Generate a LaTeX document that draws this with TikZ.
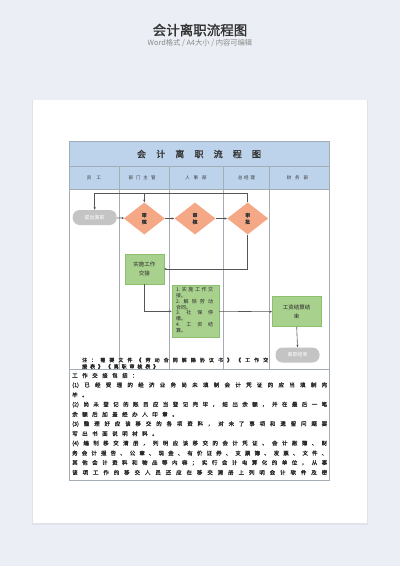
\documentclass[tikz,border=0pt]{standalone}
\usepackage{fontspec}
\setmainfont{Noto Sans CJK SC}
\newfontfamily\cjkb[FakeBold=1.5]{Noto Sans CJK SC}
\usetikzlibrary{arrows.meta,shapes.geometric}
\definecolor{bgc}{HTML}{EBEEF4}
\definecolor{shc}{HTML}{E0E3EA}
\definecolor{hdr}{HTML}{BDD3EB}
\definecolor{tline}{HTML}{A4ACB6}
\definecolor{grayterm}{HTML}{C4C4C4}
\definecolor{dia}{HTML}{F5A886}
\definecolor{grn}{HTML}{A9D18E}
\definecolor{grnline}{HTML}{8CBF6E}
\definecolor{arrc}{HTML}{555555}
\definecolor{titc}{HTML}{333333}
\definecolor{subc}{HTML}{8A8A8A}
\definecolor{txc}{HTML}{2A2A2A}
\makeatletter
\def\sp@aux#1{#1\futurelet\sp@next\sp@chk}
\def\sp@chk{\ifx\sp@next\relax\expandafter\@gobble\else\hfil\expandafter\sp@aux\fi}
\newcommand\spreadtext[2]{\hbox to #1{\sp@aux#2\relax}}
\makeatother
\tikzset{
  term/.style={rounded corners=7pt, fill=grayterm, minimum width=44pt, minimum height=15pt, inner sep=0pt, text=white, font=\fontsize{5}{6}\selectfont},
  decide/.style={diamond, fill=dia, minimum width=41pt, minimum height=32pt, inner sep=0pt, align=center, text=titc, font=\cjkb\fontsize{5}{6.5}\selectfont},
  gbox/.style={rectangle, fill=grn, draw=grnline, line width=0.5pt, inner sep=0pt, align=center, text=txc, font=\fontsize{5.5}{9}\selectfont},
  arr/.style={draw=arrc, line width=0.6pt, -{Stealth[length=2.6pt,width=2.2pt]}},
  lanelab/.style={font=\fontsize{4.5}{5}\selectfont, text=titc, inner sep=0pt},
  bodytxt/.style={anchor=west, inner sep=0pt, font=\cjkb\fontsize{5.5}{6}\selectfont, text=txc},
  tl/.style={draw=tline, line width=0.6pt}
}
\begin{document}
\begin{tikzpicture}[x=1pt,y=-1pt]
\useasboundingbox (0,0) rectangle (400,566);
\fill[bgc] (0,0) rectangle (400,566);
\fill[shc] (31.7,100) rectangle (367.7,525);
\fill[white] (32.7,100) rectangle (366.7,523.3);
% page heading
\node[font=\cjkb\fontsize{13.5}{14}\selectfont, text=titc] (ttl) at (200,30) {会计离职流程图};
\node[font=\fontsize{7.3}{8}\selectfont, text=subc] (sub) at (200,43) {Word格式 / A4大小 / 内容可编辑};
% table
\fill[hdr] (69.3,141) rectangle (329,189.5);
\draw[tl] (69.3,141) rectangle (329,480.7);
\draw[tl] (69.3,166.5) -- (329,166.5);
\draw[tl] (69.3,189.5) -- (329,189.5);
\draw[tl] (69.3,369.7) -- (329,369.7);
\foreach \x in {119.3,169.3,223.3,269.3}{\draw[tl] (\x,166.5) -- (\x,369.7);}
\node[inner sep=0pt, font=\cjkb\fontsize{9}{10}\selectfont, text=titc] (maintitle) at (199,154) {\spreadtext{124pt}{会计离职流程图}};
\node[lanelab] (l1) at (94,178) {\spreadtext{14.5pt}{员工}};
\node[lanelab] (l2) at (142,178) {\spreadtext{27pt}{部门主管}};
\node[lanelab] (l3) at (196,178) {\spreadtext{21.5pt}{人事部}};
\node[lanelab] (l4) at (246.5,178) {\spreadtext{17pt}{总经理}};
\node[lanelab] (l5) at (297.5,178) {\spreadtext{21.5pt}{财务部}};
% flow nodes
\node[term] (start) at (94.7,217.5) {提出离职};
\node[decide] (d1) at (144.3,218.5) {审\\核};
\node[decide] (d2) at (195,218.5) {审\\核};
\node[decide] (d3) at (247.7,218.5) {审\\批};
\node[gbox, minimum width=39pt, minimum height=30pt] (act1) at (144.3,269) {实施工作\\交接};
\node[gbox, minimum width=47pt, minimum height=52.7pt] (act2) at (195.5,311.3) {};
\node[anchor=north west, inner sep=0pt, align=left, text=txc, font=\fontsize{5}{5.75}\selectfont] (act2t) at (176,287.3) {\spreadtext{37pt}{{1.}实施工作交}\\接。\\\spreadtext{37pt}{{2.}解除劳动}\\合同。\\\spreadtext{37pt}{{3.}社保停}\\缴。\\\spreadtext{37pt}{{4.}工资结}\\算。};
\node[gbox, minimum width=48.7pt, minimum height=30pt] (fin) at (296.7,311.7) {工资结算结\\束};
\node[term] (end) at (297.5,355) {离职结束};
% connectors
\coordinate (topL) at (94.7,193.3);
\draw[arr] (start) -- (d1);
\draw[arr] (d1) -- (d2);
\draw[arr] (d2) -- (d3);
\draw[arr] (d3.north) |- (topL) -- (start.north);
\draw[arr] (d1.north |- topL) -- (d1.north);
\draw[arr] (d3.south) |- (act1.east);
\draw[arr] (act1.south) |- (act2.west);
\draw[arr] (act2.east) -- (fin.west);
\draw[arr] (fin.south) -- (end.north);
% note
\node[bodytxt, font=\cjkb\fontsize{5}{6}\selectfont] (n1) at (82,360) {\spreadtext{186pt}{注：需要文件《劳动合同解除协议书》《工作交}};
\node[bodytxt, font=\cjkb\fontsize{5}{6}\selectfont] (n2) at (82,366.5) {\spreadtext{76pt}{接表》《离职审核表》}};
% body text
\node[bodytxt] (b0) at (72,375.5) {\spreadtext{65.5pt}{工作交接包括：}};
\node[bodytxt] (b1) at (72,385.2) {\spreadtext{255pt}{{(1)}已经受理的经济业务尚未填制会计凭证的应当填制完}};
\node[bodytxt] (b2) at (72,394.9) {\spreadtext{15.5pt}{毕。}};
\node[bodytxt] (b3) at (72,404.6) {\spreadtext{255pt}{{(2)}尚未登记的账目应当登记完毕，结出余额，并在最后一笔}};
\node[bodytxt] (b4) at (72,414.3) {\spreadtext{105.5pt}{余额后加盖经办人印章。}};
\node[bodytxt] (b5) at (72,424) {\spreadtext{255pt}{{(3)}整理好应该移交的各项资料，对未了事项和遗留问题要}};
\node[bodytxt] (b6) at (72,433.7) {\spreadtext{85.5pt}{写出书面说明材料。}};
\node[bodytxt] (b7) at (72,443.4) {\spreadtext{255pt}{{(4)}编制移交清册，列明应该移交的会计凭证、会计账簿、财}};
\node[bodytxt] (b8) at (72,453.1) {\spreadtext{255pt}{务会计报告、公章、现金、有价证券、支票簿、发票、文件、}};
\node[bodytxt] (b9) at (72,462.8) {\spreadtext{255pt}{其他会计资料和物品等内容；实行会计电算化的单位，从事}};
\node[bodytxt] (b10) at (72,472.5) {\spreadtext{255pt}{该项工作的移交人员还应在移交清册上列明会计软件及密}};
\end{tikzpicture}
\end{document}
